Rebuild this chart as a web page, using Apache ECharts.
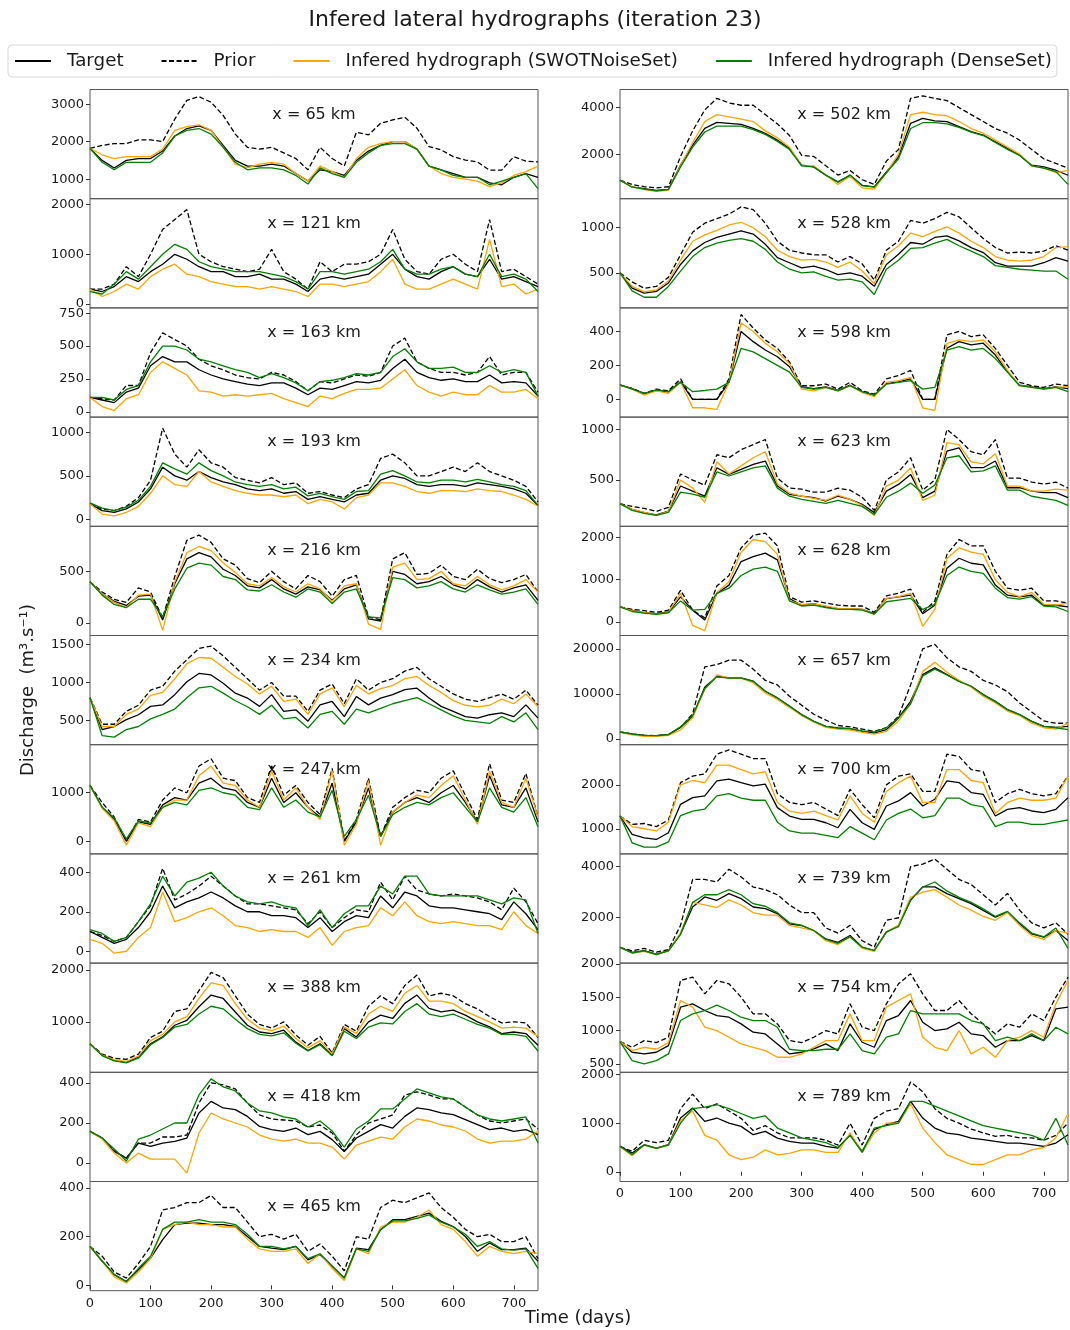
<!DOCTYPE html>
<html><head><meta charset="utf-8">
<script src="https://cdn.jsdelivr.net/npm/echarts@6/dist/echarts.min.js"></script>
<style>html,body{margin:0;padding:0;background:#fff}#c{width:1070px;height:1330px}</style>
</head><body><div id="c"></div>
<script>
// ---- shared axis data ----
const days = [0,20,40,60,80,100,120,140,160,180,200,220,240,260,280,300,320,340,360,380,400,420,440,460,480,500,520,540,560,580,600,620,640,660,680,700,720,740];
const xTicks = [0,100,200,300,400,500,600,700];
const seriesNames = ['Target','Prior','Infered hydrograph (SWOTNoiseSet)','Infered hydrograph (DenseSet)'];

// ---- x = 65 km ----
const t65 = [1820,1500,1300,1500,1550,1550,1750,2150,2350,2420,2300,1900,1500,1350,1350,1400,1350,1150,950,1250,1200,1100,1500,1750,1900,2000,2000,1800,1350,1250,1150,1050,1050,900,850,1050,1150,1050];
const p65 = [1820,1900,1950,1950,2050,2050,2000,2600,3100,3200,3050,2700,2200,1850,1800,1850,1700,1550,1250,1850,1550,1350,2250,2180,2490,2580,2650,2360,1870,1780,1600,1510,1460,1240,1240,1600,1480,1460];
const o65 = [1820,1650,1550,1600,1600,1600,1800,2300,2400,2450,2300,1850,1400,1300,1400,1450,1400,1150,950,1350,1200,1050,1550,1850,1950,2000,2000,1800,1350,1150,1050,1000,950,800,900,1100,1200,1350];
const g65 = [1820,1450,1250,1450,1450,1450,1700,2150,2300,2350,2200,1850,1450,1250,1300,1300,1250,1100,870,1300,1150,1050,1450,1700,1900,1950,1950,1800,1350,1250,1100,1050,1050,850,950,1050,1150,750];
const range65 = [480,3390]; const ticks65 = [1000,2000,3000];
// ---- x = 121 km ----
const t121 = [300,250,350,550,450,650,800,1000,900,750,650,650,550,550,600,500,500,400,250,500,550,500,550,600,800,1000,700,550,500,650,750,600,550,900,500,550,450,350];
const p121 = [300,300,400,750,550,1000,1500,1700,1900,1000,850,750,700,650,700,1100,650,500,300,850,650,800,800,850,1000,1500,900,650,600,900,1000,800,650,1700,650,700,550,400];
const o121 = [300,150,250,400,300,550,700,800,600,550,450,400,350,350,300,350,300,250,150,400,400,350,400,450,650,900,400,300,300,400,500,400,300,1300,350,400,200,300];
const g121 = [250,200,400,650,500,750,1000,1200,1100,850,750,700,650,650,650,600,550,450,300,650,650,600,650,700,850,1100,700,600,600,700,750,600,550,1000,550,600,500,250];
const range121 = [-80,2120]; const ticks121 = [0,1000,2000];
// ---- x = 163 km ----
const t163 = [110,90,70,150,180,350,420,380,380,320,280,250,230,210,200,220,220,180,130,180,170,200,230,220,240,330,400,300,260,240,250,230,230,280,220,230,220,120];
const p163 = [110,100,90,200,200,450,600,550,500,400,350,320,280,260,250,300,280,230,160,230,220,250,280,270,300,500,560,380,330,300,300,280,300,420,280,300,300,150];
const o163 = [110,40,10,100,130,300,380,330,280,160,150,120,130,120,130,140,100,70,40,120,100,140,170,170,180,250,320,200,150,120,150,130,130,200,150,150,170,100];
const g163 = [110,110,90,170,200,380,500,500,470,400,380,350,320,300,260,290,260,220,160,230,240,260,290,280,300,420,480,380,330,330,340,300,300,350,300,320,300,120];
const range163 = [-40,790]; const ticks163 = [0,250,500,750];
// ---- x = 193 km ----
const t193 = [180,100,80,120,200,350,600,500,450,550,480,430,400,350,330,350,300,320,230,260,230,200,280,300,450,500,470,400,380,400,400,380,420,400,380,350,300,160];
const p193 = [180,120,100,150,250,450,1050,750,600,800,650,600,480,450,420,480,400,420,300,320,280,250,350,400,700,750,650,500,500,550,600,550,650,550,500,450,380,200];
const o193 = [180,60,40,80,150,300,500,400,380,550,430,380,330,300,280,280,260,280,180,230,200,120,250,280,420,420,380,320,300,330,330,320,350,330,320,280,230,150];
const g193 = [190,130,100,140,220,380,650,580,520,650,560,500,430,400,380,400,350,370,270,300,260,230,320,330,520,560,500,430,420,450,450,430,460,430,400,380,330,160];
const range193 = [-80,1176]; const ticks193 = [0,500,1000];
// ---- x = 216 km ----
const t216 = [400,280,210,170,260,270,30,380,620,680,640,520,460,360,340,420,330,280,350,320,220,330,370,40,20,500,470,380,400,450,370,330,420,350,300,340,370,220];
const p216 = [400,300,230,200,340,300,50,450,800,850,780,620,560,430,390,500,400,330,460,400,260,420,460,60,30,620,680,470,480,560,450,420,520,430,390,420,470,300];
const o216 = [400,280,200,150,270,280,-70,400,680,740,700,580,490,380,360,440,350,300,380,330,210,360,380,-10,-60,540,580,420,430,500,380,360,450,370,320,360,420,300];
const g216 = [400,270,180,150,230,230,60,330,530,580,560,450,420,320,310,370,300,250,330,300,190,300,330,60,50,440,420,340,360,400,330,300,370,320,280,300,330,180];
const range216 = [-120,935]; const ticks216 = [0,500];
// ---- x = 234 km ----
const t234 = [800,380,420,510,575,685,705,840,1010,1120,1100,990,860,795,685,840,620,640,490,705,750,550,815,705,795,840,905,925,795,685,620,550,530,575,600,550,705,530];
const p234 = [800,450,450,620,700,900,950,1150,1300,1450,1480,1350,1200,1050,900,1000,820,820,620,900,980,720,1050,900,1000,1050,1150,1200,1050,950,850,780,750,800,850,780,900,700];
const o234 = [800,420,420,580,650,830,870,1050,1250,1330,1320,1200,1080,980,850,950,750,780,580,850,930,680,960,850,920,960,1050,1080,960,870,760,700,680,700,780,720,850,680];
const g234 = [800,300,280,380,420,520,580,650,800,930,950,860,760,680,580,700,520,540,400,580,620,450,650,600,660,720,760,800,720,640,560,500,480,460,550,480,600,380];
const range234 = [180,1620]; const ticks234 = [500,1000,1500];
// ---- x = 247 km ----
const t247 = [1150,700,450,0,400,350,750,900,850,1200,1300,1100,1050,800,700,1300,800,1000,700,500,1200,0,400,1100,100,600,800,900,800,1000,1150,800,400,1350,750,700,1100,400];
const p247 = [1150,800,500,0,450,400,850,1100,1000,1550,1700,1300,1250,900,800,1550,950,1150,800,550,1500,0,450,1300,100,700,900,1050,1000,1300,1450,950,450,1600,850,800,1400,500];
const o247 = [1150,680,420,-80,380,300,700,850,850,1350,1550,1200,1150,850,700,1450,850,1100,700,450,1450,-80,350,1250,-80,600,800,950,900,1150,1350,850,350,1450,800,700,1300,500];
const g247 = [1150,700,480,50,420,380,700,800,750,1050,1100,1000,950,700,650,1100,700,850,600,500,1050,100,450,950,100,550,700,800,750,900,1000,700,400,1100,700,600,900,300];
const range247 = [-260,1990]; const ticks247 = [0,1000];
// ---- x = 261 km ----
const t261 = [100,70,40,60,120,200,330,220,250,270,300,270,230,200,200,180,180,170,120,170,100,150,180,170,280,220,300,280,230,220,220,210,200,190,160,250,190,110];
const p261 = [100,80,50,70,150,230,420,260,290,330,380,330,280,240,240,230,220,210,140,200,120,170,210,200,350,260,380,310,290,280,290,280,270,250,210,320,250,140];
const o261 = [60,40,-10,0,70,120,300,150,170,200,220,180,130,120,100,110,100,100,70,120,30,100,120,130,220,180,250,180,150,140,150,140,130,130,110,200,130,90];
const g261 = [110,90,50,70,150,240,380,280,350,370,400,330,280,250,240,250,230,220,130,210,120,190,230,230,330,290,380,380,290,280,280,280,280,260,240,270,260,90];
const range261 = [-60,493]; const ticks261 = [0,200,400];
// ---- x = 388 km ----
const t388 = [580,355,260,225,320,580,710,935,1030,1290,1515,1450,1190,935,805,775,840,610,450,580,355,870,710,1000,1130,1065,1355,1515,1260,1190,1225,1130,1000,905,775,805,775,550];
const p388 = [580,380,300,280,380,700,820,1200,1250,1600,1950,1850,1500,1150,950,880,1000,750,550,720,400,950,820,1300,1500,1350,1700,1900,1500,1550,1500,1350,1250,1100,980,1000,980,700];
const o388 = [580,360,270,240,340,640,760,1000,1100,1450,1750,1700,1350,1050,880,830,920,680,500,640,380,900,780,1150,1300,1200,1550,1700,1400,1400,1350,1200,1100,1000,880,900,880,720];
const g388 = [580,350,250,210,300,560,700,900,950,1150,1300,1250,1050,870,760,730,790,590,440,560,350,820,680,900,980,960,1200,1350,1150,1100,1150,1050,950,880,760,760,720,440];
const range388 = [30,2130]; const ticks388 = [1000,2000];
// ---- x = 418 km ----
const t418 = [158,125,58,25,100,83,100,108,125,250,308,275,267,233,183,167,158,175,142,158,117,58,125,158,192,175,233,275,267,250,242,217,192,167,175,158,167,142];
const p418 = [158,125,60,25,100,100,130,130,140,300,400,390,370,300,240,220,215,210,180,190,150,60,140,200,220,240,340,355,340,320,320,280,240,210,200,210,220,170];
const o418 = [158,120,50,0,50,20,20,20,-50,150,250,220,200,180,140,120,110,120,100,100,80,20,90,110,130,120,180,220,210,190,180,160,120,100,110,110,120,160];
const g418 = [158,125,70,10,120,140,170,200,200,340,420,380,360,300,260,250,230,220,180,210,160,80,170,210,270,270,320,370,350,330,320,280,240,220,210,220,230,100];
const range418 = [-92,453]; const ticks418 = [0,200,400];
// ---- x = 465 km ----
const t465 = [160,99,44,16,64,112,188,250,256,256,250,250,242,201,160,153,147,160,105,126,78,30,153,147,229,270,270,284,297,263,242,201,140,174,147,147,153,99];
const p465 = [160,120,55,30,90,160,310,320,340,340,370,320,320,260,200,210,190,210,140,170,120,60,200,190,320,350,340,360,380,320,280,230,200,210,180,180,200,110];
const o465 = [160,100,35,10,55,110,230,250,260,250,250,240,240,190,150,140,140,150,90,130,70,20,150,130,240,260,260,280,310,250,230,180,120,160,140,130,140,130];
const g465 = [160,100,45,15,70,120,230,260,260,270,260,260,250,210,160,160,150,160,110,130,80,30,150,140,230,265,265,275,290,260,240,210,160,180,150,145,150,70];
const range465 = [-22,427]; const ticks465 = [0,200,400];
// ---- x = 502 km ----
const t502 = [880,590,518,446,490,1525,2390,3108,3367,3324,3280,3108,2892,2604,2245,1525,1453,1094,806,1094,662,590,1237,1885,3324,3540,3425,3396,3180,2964,2820,2532,2245,1957,1525,1453,1309,1094];
const p502 = [880,700,600,550,600,1900,3000,3900,4400,4200,4100,4100,3700,3300,2800,1950,1900,1500,1100,1300,900,700,1700,2200,4400,4500,4400,4300,4000,3700,3400,3100,2900,2600,2200,1800,1600,1400];
const o502 = [880,600,480,400,450,1500,2500,3400,3700,3600,3500,3400,3000,2700,2300,1500,1500,1100,700,1050,550,500,1200,2000,3700,3800,3700,3650,3400,3100,2900,2600,2300,2000,1500,1400,1200,1300];
const g502 = [880,580,500,420,480,1450,2300,2950,3200,3200,3200,3050,2850,2550,2200,1500,1450,1100,800,1100,650,580,1200,1800,3100,3350,3350,3300,3150,2950,2800,2500,2200,1950,1500,1400,1250,700];
const range502 = [86,4777]; const ticks502 = [2000,4000];
// ---- x = 528 km ----
const t528 = [500,332,276,295,388,593,743,836,892,929,966,929,817,668,612,556,575,537,481,500,463,351,593,705,836,817,892,910,854,780,724,612,575,575,575,612,668,631];
const p528 = [500,400,330,350,450,700,950,1050,1100,1150,1230,1200,1050,850,750,720,700,700,620,680,600,420,750,850,1080,1050,1100,1170,1120,1000,880,780,720,730,720,740,800,750];
const o528 = [500,350,290,310,410,640,850,920,970,1030,1060,1000,900,750,680,640,650,620,560,620,520,380,700,800,940,900,960,1010,940,850,780,680,640,630,640,680,780,790];
const g528 = [500,300,230,230,350,520,680,780,830,860,880,850,760,620,540,500,510,460,420,430,400,260,540,640,770,780,830,870,800,740,680,580,560,540,530,520,520,430];
const range528 = [112,1321]; const ticks528 = [500,1000];
// ---- x = 598 km ----
const t598 = [83,63,34,53,44,103,0,0,0,100,400,340,291,251,192,73,63,73,53,83,44,24,93,103,120,0,0,301,340,321,331,261,162,83,73,63,73,63];
const p598 = [83,65,35,60,50,120,0,0,0,120,500,420,350,300,220,80,80,90,60,100,50,30,120,140,170,0,0,380,400,370,380,300,200,100,80,70,90,80];
const o598 = [83,60,25,50,35,100,-50,-50,-60,100,450,400,330,280,210,60,50,70,50,80,40,15,100,110,130,-50,-65,330,350,340,350,280,170,80,70,60,70,75];
const g598 = [85,60,35,55,45,100,45,52,60,100,300,280,240,200,160,70,60,70,50,80,45,25,90,100,110,60,70,290,310,290,300,240,160,80,70,60,70,45];
const range598 = [-105,539]; const ticks598 = [0,200,400];
// ---- x = 623 km ----
const t623 = [266,211,178,155,194,441,391,342,622,556,605,655,688,441,359,342,326,293,342,309,260,178,391,457,556,326,391,786,819,622,622,688,424,424,391,375,375,326];
const p623 = [266,240,220,190,230,560,500,450,750,720,800,850,900,520,420,410,380,380,420,400,330,200,500,580,720,400,500,1000,900,780,750,900,520,520,480,460,480,420];
const o623 = [266,210,180,150,190,500,420,280,680,560,640,720,780,460,370,340,320,300,350,310,250,150,440,500,620,300,350,870,850,680,660,760,440,440,390,390,410,400];
const g623 = [266,200,170,150,180,380,360,330,580,540,580,620,640,420,340,310,290,270,300,270,240,160,330,390,470,370,450,720,740,580,590,640,400,400,340,320,300,250];
const range623 = [43,1122]; const ticks623 = [500,1000];
// ---- x = 628 km ----
const t628 = [357,278,222,198,238,595,278,50,675,873,1429,1548,1627,1468,556,397,437,357,317,317,302,198,556,595,635,198,397,1270,1508,1389,1349,873,635,595,635,397,397,357];
const p628 = [357,300,270,230,280,750,280,100,850,1100,1750,2050,2100,1800,600,470,500,450,400,380,380,230,620,680,780,230,500,1600,1950,1800,1800,1200,800,750,800,500,500,450];
const o628 = [357,270,220,190,230,680,-80,-200,700,950,1650,1950,1900,1600,500,420,430,380,320,320,300,180,560,600,680,-100,300,1500,1750,1650,1600,1000,700,600,700,420,400,450];
const g628 = [357,250,210,180,220,500,280,300,680,800,1100,1250,1300,1200,500,380,400,340,300,300,280,190,480,520,560,300,420,1100,1300,1200,1150,800,580,540,600,380,360,250];
const range628 = [-317,2262]; const ticks628 = [0,1000,2000];
// ---- x = 657 km ----
const t657 = [1556,1111,815,741,963,2593,5000,11500,13926,13556,13556,12815,10593,9111,7259,5407,3926,2815,2444,2296,1704,1333,2074,4667,8370,14296,15778,14296,12815,11704,9852,8370,6519,5407,3926,2815,2593,2815];
const p657 = [1556,1100,800,750,950,2600,5600,16000,16500,17500,17500,15500,13000,12000,9500,7500,5500,4200,3000,2700,2200,1700,2500,5000,12000,20000,21000,18000,16000,15000,13000,12000,10500,8000,6000,4000,3500,3500];
const o657 = [1556,900,600,600,800,2000,4700,11000,14200,13500,13500,12500,10200,8800,7000,5200,3800,2600,2200,2000,1500,1100,1700,4000,7800,15000,17000,14800,13000,11500,9500,8000,6200,5200,3500,2500,2200,3500];
const g657 = [1556,1100,800,750,950,2700,5200,11200,13800,13500,13500,12800,10600,9100,7300,5400,3900,2800,2400,2300,1800,1600,2500,4700,7800,14000,15500,14200,12800,11700,9800,8300,6500,5400,3900,2800,2500,2100];
const range657 = [-1260,22960]; const ticks657 = [0,10000,20000];
// ---- x = 700 km ----
const t700 = [1290,870,794,756,908,1557,1710,1748,2092,2130,2053,1977,2015,1481,1290,1214,1214,1137,1023,1443,1137,985,1519,1634,1824,1519,1672,2092,2053,1824,1786,1290,1443,1481,1405,1366,1443,1710];
const p700 = [1290,1100,1120,1050,1200,2050,2200,2250,2700,2800,2700,2600,2600,1800,1600,1550,1600,1450,1300,1900,1550,1250,2000,2200,2250,1850,1850,2700,2650,2350,2300,1600,1800,1900,1800,1750,1800,2200];
const o700 = [1290,1050,1000,950,1150,2000,2100,2050,2450,2450,2350,2250,2300,1600,1400,1350,1400,1300,1200,1750,1350,1150,1850,2050,2200,1600,1600,2350,2350,2100,2050,1350,1600,1700,1650,1650,1700,2200];
const g700 = [1290,680,580,580,700,1300,1400,1450,1750,1800,1700,1650,1650,1150,950,900,900,850,800,1050,900,750,1200,1350,1450,1250,1300,1700,1700,1550,1500,1050,1150,1150,1100,1100,1150,1200];
const range700 = [427,2916]; const ticks700 = [1000,2000];
// ---- x = 739 km ----
const t739 = [842,645,710,579,710,1368,2421,2816,2684,2947,2750,2421,2355,2158,1763,1697,1500,1171,1039,1303,842,710,1434,1697,2684,3211,3211,2947,2750,2553,2289,2026,2224,1763,1368,1237,1500,1105];
const p739 = [842,700,800,650,750,1700,3500,3500,3400,3900,3600,3200,3100,2900,2500,2200,2200,1600,1400,1700,1100,850,1900,2000,4000,4100,4300,3900,3500,3300,2900,2500,2950,2300,1800,1600,1800,1350];
const o739 = [842,620,680,560,700,1400,2600,2500,2400,2700,2500,2200,2100,2100,1700,1600,1500,1100,950,1250,800,680,1450,1700,2800,3000,3100,2800,2500,2300,2050,1900,2200,1700,1300,1150,1500,1400];
const g739 = [842,620,700,560,700,1350,2600,2900,2900,3100,2900,2550,2450,2200,1800,1700,1500,1150,1000,1250,850,720,1450,1650,2700,3200,3400,3050,2800,2600,2350,2050,2250,1800,1400,1250,1600,800];
const range739 = [224,4500]; const ticks739 = [2000,4000];
// ---- x = 754 km ----
const t754 = [835,675,650,675,775,1350,1400,1300,1225,1200,1100,975,950,800,650,675,725,800,700,1100,825,750,1150,1225,1450,1125,1000,1025,1125,950,925,750,850,850,925,850,1325,1350];
const p754 = [835,750,850,820,900,1750,1800,1550,1750,1700,1500,1250,1250,1100,850,820,900,1000,950,1400,1050,1000,1400,1700,1850,1550,1300,1300,1450,1250,1100,950,1100,1050,1250,1150,1500,1800];
const o754 = [835,700,750,720,820,1450,1350,1050,1000,900,800,750,700,600,600,650,750,850,850,1250,850,850,1350,1450,1550,900,750,700,1000,650,750,600,850,900,1000,900,1400,1750];
const g754 = [835,550,500,550,650,1150,1250,1300,1380,1300,1200,1150,1150,1050,720,700,700,720,720,950,700,650,900,950,1300,1250,1250,1250,1250,1150,1100,850,900,850,950,850,1050,950];
const range754 = [375,2010]; const ticks754 = [500,1000,1500,2000];
// ---- x = 789 km ----
const t789 = [522,385,557,488,557,1107,1313,1038,1107,1003,935,763,832,694,625,591,591,522,488,763,419,866,969,1038,1450,1107,900,797,763,694,660,625,591,591,557,522,591,763];
const p789 = [522,420,650,600,650,1300,1600,1300,1400,1250,1100,850,950,800,700,700,700,650,550,1000,550,1100,1250,1300,1850,1650,1300,1100,1000,880,800,730,750,700,700,650,750,1000];
const o789 = [522,330,550,480,550,1050,1250,750,650,350,250,300,450,350,380,450,450,400,400,800,400,800,1000,1000,1400,900,600,350,250,150,150,250,350,350,450,500,700,1200];
const g789 = [522,350,550,480,550,1000,1300,1330,1380,1300,1200,1100,1150,900,800,700,650,600,500,750,400,900,950,1000,1450,1450,1350,1250,1150,1050,950,900,850,800,750,650,1100,550];
const range789 = [-200,2048]; const ticks789 = [0,1000,2000];

const panels = [
  {label:'x = 65 km',  col:0,row:0, s:[t65,p65,o65,g65], r:range65, k:ticks65},
  {label:'x = 121 km', col:0,row:1, s:[t121,p121,o121,g121], r:range121, k:ticks121},
  {label:'x = 163 km', col:0,row:2, s:[t163,p163,o163,g163], r:range163, k:ticks163},
  {label:'x = 193 km', col:0,row:3, s:[t193,p193,o193,g193], r:range193, k:ticks193},
  {label:'x = 216 km', col:0,row:4, s:[t216,p216,o216,g216], r:range216, k:ticks216},
  {label:'x = 234 km', col:0,row:5, s:[t234,p234,o234,g234], r:range234, k:ticks234},
  {label:'x = 247 km', col:0,row:6, s:[t247,p247,o247,g247], r:range247, k:ticks247},
  {label:'x = 261 km', col:0,row:7, s:[t261,p261,o261,g261], r:range261, k:ticks261},
  {label:'x = 388 km', col:0,row:8, s:[t388,p388,o388,g388], r:range388, k:ticks388},
  {label:'x = 418 km', col:0,row:9, s:[t418,p418,o418,g418], r:range418, k:ticks418},
  {label:'x = 465 km', col:0,row:10,s:[t465,p465,o465,g465], r:range465, k:ticks465, bottom:true},
  {label:'x = 502 km', col:1,row:0, s:[t502,p502,o502,g502], r:range502, k:ticks502},
  {label:'x = 528 km', col:1,row:1, s:[t528,p528,o528,g528], r:range528, k:ticks528},
  {label:'x = 598 km', col:1,row:2, s:[t598,p598,o598,g598], r:range598, k:ticks598},
  {label:'x = 623 km', col:1,row:3, s:[t623,p623,o623,g623], r:range623, k:ticks623},
  {label:'x = 628 km', col:1,row:4, s:[t628,p628,o628,g628], r:range628, k:ticks628},
  {label:'x = 657 km', col:1,row:5, s:[t657,p657,o657,g657], r:range657, k:ticks657},
  {label:'x = 700 km', col:1,row:6, s:[t700,p700,o700,g700], r:range700, k:ticks700},
  {label:'x = 739 km', col:1,row:7, s:[t739,p739,o739,g739], r:range739, k:ticks739},
  {label:'x = 754 km', col:1,row:8, s:[t754,p754,o754,g754], r:range754, k:ticks754},
  {label:'x = 789 km', col:1,row:9, s:[t789,p789,o789,g789], r:range789, k:ticks789, bottom:true}
];

const FONT = 'DejaVu Sans';
const TXT = '#1a1a1a';
const colors = ['#000000','#000000','#FFA500','#008000'];
const lineTypes = ['solid',[5,2.5],'solid','solid'];
const PANEL_TOP = 89.5, PANEL_H = 109.2, PANEL_W = 448, COL_X = [90,620];
const plain = v => String(v);

const grid = [], xAxis = [], yAxis = [], series = [], graphic = [];
panels.forEach((pn, i) => {
  const left = COL_X[pn.col], top = PANEL_TOP + pn.row*PANEL_H;
  grid.push({left:left, top:top, width:PANEL_W, height:PANEL_H, show:true,
    borderColor:'#555', borderWidth:1, backgroundColor:'transparent', containLabel:false});
  xAxis.push({type:'value', gridIndex:i, min:0, max:740,
    axisLine:{show:false}, splitLine:{show:false},
    axisTick:{show:!!pn.bottom, length:4, customValues:xTicks, lineStyle:{color:'#333'}},
    axisLabel:{show:!!pn.bottom, customValues:xTicks, formatter:plain, fontSize:13, color:TXT, fontFamily:FONT, margin:6}});
  yAxis.push({type:'value', gridIndex:i, min:pn.r[0], max:pn.r[1],
    axisLine:{show:false}, splitLine:{show:false},
    axisTick:{show:true, length:4, customValues:pn.k, lineStyle:{color:'#333'}},
    axisLabel:{customValues:pn.k, formatter:plain, fontSize:13, color:TXT, fontFamily:FONT, margin:6}});
  pn.s.forEach((arr, j) => {
    series.push({type:'line', name:seriesNames[j], xAxisIndex:i, yAxisIndex:i,
      data: days.map((d, n) => [d, arr[n]]),
      showSymbol:false, symbol:'none', animation:false, clip:true,
      lineStyle:{color:colors[j], width:1.3, type:lineTypes[j]},
      itemStyle:{color:colors[j]}, z:2+j});
  });
  graphic.push({type:'text', x:left + PANEL_W/2, y:top + 25, z:1,
    style:{text:pn.label, font:'16px "DejaVu Sans"', fill:TXT, align:'center', verticalAlign:'middle'}});
});
graphic.push({type:'text', x:28, y:690, rotation:Math.PI/2,
  style:{text:'Discharge  (m³.s⁻¹)', font:'18px "DejaVu Sans"', fill:TXT, align:'center', verticalAlign:'middle'}});
graphic.push({type:'text', x:578, y:1318,
  style:{text:'Time (days)', font:'18px "DejaVu Sans"', fill:TXT, align:'center', verticalAlign:'middle'}});

const chart = echarts.init(document.getElementById('c'), null, {renderer:'canvas'});
chart.setOption({
  animation:false,
  backgroundColor:'#ffffff',
  title:{text:'Infered lateral hydrographs (iteration 23)', left:'center', top:4,
    textStyle:{fontSize:22, fontWeight:'normal', color:TXT, fontFamily:FONT}},
  legend:{data:seriesNames, left:8, top:45, width:1062, itemWidth:36, itemHeight:12, itemGap:37,
    padding:[7,5,7,6], borderColor:'#d8d8d8', borderWidth:1, borderRadius:4,
    itemStyle:{opacity:0},
    textStyle:{fontSize:18.3, color:TXT, fontFamily:FONT, padding:[0,0,0,11]}, selectedMode:false},
  grid, xAxis, yAxis, series, graphic
});
</script></body></html>
